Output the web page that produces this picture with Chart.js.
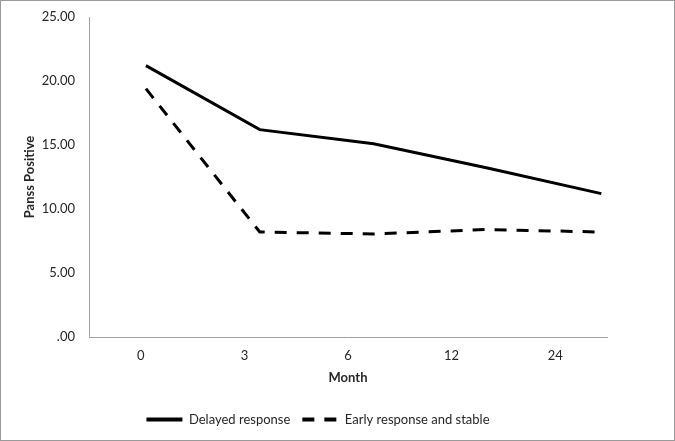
<!DOCTYPE html>
<html>
<head>
<meta charset="utf-8">
<script src="https://cdn.jsdelivr.net/npm/chart.js@4"></script>
<style>
  html, body { margin: 0; padding: 0; background: #fff; }
  #wrap { width: 675px; height: 441px; box-sizing: border-box; border: 1px solid #9a9a9a; }
  #myChart { display: block; }
</style>
</head>
<body>
<div id="wrap"><canvas id="myChart" width="673" height="439"></canvas></div>
<script>
// month categories (tick labels)
const monthLabels = ['0', '3', '6', '12', '24'];

// Panss Positive means
const delayedResponse = [21.2, 16.2, 15.1, 13.2, 11.2];
const earlyStable = [19.4, 8.2, 8.05, 8.4, 8.2];

const yTicks = [0, 5, 10, 15, 20, 25];

const fontFam = "Lato, 'Liberation Sans', sans-serif";
const textCol = '#262626';

// points sit at category index positions
const toPoints = arr => arr.map((v, i) => ({ x: i, y: v }));

const config = {
  type: 'line',
  data: {
    datasets: [{
      label: 'Delayed response',
      data: toPoints(delayedResponse),
      borderColor: '#000',
      backgroundColor: '#000',
      borderWidth: 3,
      pointRadius: 0,
      pointStyle: 'line',
      tension: 0,
      xAxisID: 'x',
      yAxisID: 'y'
    },
    {
      label: 'Early response and stable',
      data: toPoints(earlyStable),
      borderColor: '#000',
      backgroundColor: '#000',
      borderWidth: 3,
      borderDash: [12, 10],
      pointRadius: 0,
      pointStyle: 'line',
      tension: 0,
      xAxisID: 'x',
      yAxisID: 'y'
    }]
  },
  options: {
    responsive: false,
    animation: false,
    layout: { padding: { left: 0, top: 16, right: 39, bottom: 4 } },
    plugins: {
      tooltip: { enabled: false },
      legend: {
        display: true,
        position: 'bottom',
        labels: {
          usePointStyle: true,
          pointStyleWidth: 36,
          boxHeight: 13,
          padding: 12,
          color: textCol,
          font: { family: fontFam, size: 13 },
          // legend keeps the dash of each line
          generateLabels: chart => {
            const items = Chart.defaults.plugins.legend.labels.generateLabels(chart);
            items.forEach(it => {
              const ds = chart.data.datasets[it.datasetIndex];
              it.lineDash = ds.borderDash || [];
              it.lineWidth = 4;
              it.strokeStyle = '#000';
            });
            return items;
          }
        }
      }
    },
    scales: {
      x: {
        type: 'linear',
        display: false,
        min: -0.5,
        max: 4.05
      },
      months: {
        type: 'category',
        labels: monthLabels,
        position: 'bottom',
        offset: true,
        afterFit: scale => { scale.height = 64; },
        grid: { display: false, drawTicks: false },
        border: { display: true, color: '#a0a0a0', width: 1 },
        ticks: { padding: 11, color: textCol, font: { family: fontFam, size: 13 } },
        title: {
          display: true,
          text: 'Month',
          color: textCol,
          padding: { top: 0, bottom: 15 },
          font: { family: fontFam, size: 13, weight: 'bold' }
        }
      },
      y: {
        type: 'linear',
        min: 0,
        max: 25,
        afterFit: scale => {
          scale.width = 88;
          scale.paddingTop = 0;
          scale.paddingBottom = 0;
        },
        afterBuildTicks: scale => { scale.ticks = yTicks.map(v => ({ value: v })); },
        grid: { display: false, drawTicks: false },
        border: { display: true, color: '#a0a0a0', width: 1 },
        ticks: {
          padding: 14,
          color: textCol,
          font: { family: fontFam, size: 13 },
          callback: v => v === 0 ? '.00' : v.toFixed(2)
        },
        title: {
          display: true,
          text: 'Panss Positive',
          color: textCol,
          padding: { top: 21, bottom: 0 },
          font: { family: fontFam, size: 13, weight: 'bold' }
        }
      },
      // empty right margin so the legend centres like the original
      yRight: {
        type: 'linear',
        position: 'right',
        afterFit: scale => {
          scale.width = 28;
          scale.paddingTop = 0;
          scale.paddingBottom = 0;
        },
        grid: { display: false, drawTicks: false },
        border: { display: false },
        ticks: { display: false }
      }
    }
  }
};

const ctx = document.getElementById('myChart').getContext('2d');
const myChart = new Chart(ctx, config);
</script>
</body>
</html>
